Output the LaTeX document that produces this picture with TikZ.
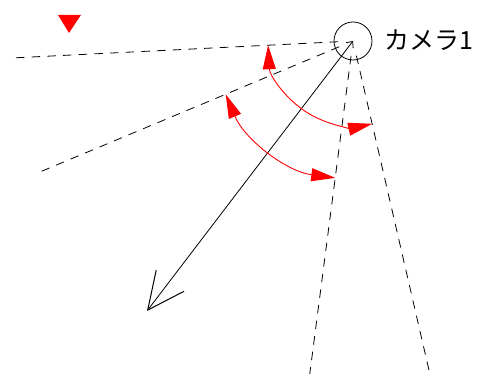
\documentclass[tikz,border=0pt]{standalone}
\usepackage{fontspec}
\newfontfamily\cjk{Noto Sans CJK JP}
\usetikzlibrary{arrows.meta,calc}
\begin{document}
\begin{tikzpicture}[x=1pt,y=1pt,
  ray/.style={draw=black,line width=0.8pt,dash pattern=on 8.5pt off 7.2pt},
  redarc/.style={draw=red,line width=0.9pt,{Triangle[length=24pt,width=13pt]}-{Triangle[length=24pt,width=13pt]}},
  axisarrow/.style={draw=black,line width=0.8pt,{Straight Barb[length=37pt,width=35pt,line width=1pt]}-{Straight Barb[length=5pt,width=9pt]}}]
\useasboundingbox (0,0) rectangle (480,374);
\coordinate (apex) at (353,333);
\node[circle,draw,line width=0.8pt,minimum size=38pt,inner sep=0pt] (cam) at (apex) {};
\node[anchor=west,inner sep=0pt,font=\cjk\fontsize{25}{25}\selectfont] (label) at (384,334) {カメラ1};
% rays
\coordinate (r1s) at ($(apex)+(182.85:15)$);
\coordinate (r1e) at ($(apex)+(182.85:341)$);
\coordinate (r2s) at ($(apex)+(202.7:15)$);
\coordinate (r2e) at ($(apex)+(202.7:340)$);
\coordinate (r3s) at ($(apex)+(262.6:15)$);
\coordinate (r3e) at ($(apex)+(262.6:337)$);
\coordinate (r4s) at ($(apex)+(283.0:15)$);
\coordinate (r4e) at ($(apex)+(283.0:342)$);
\draw[ray] (r1s) -- (r1e);
\draw[ray] (r2s) -- (r2e);
\draw[ray] (r3s) -- (r3e);
\draw[ray] (r4s) -- (r4e);
% optical axis arrow
\coordinate (axend) at (147,63);
\draw[axisarrow] (axend) -- (apex);
% angle arcs
\draw[redarc] ($(apex)+(182.85:85)$) arc[start angle=182.85,end angle=283,radius=85pt];
\draw[redarc] ($(apex)+(202.7:138)$) arc[start angle=202.7,end angle=262.6,radius=138pt];
% marker
\fill[red] (58,359) -- (81,359) -- (69,341) -- cycle;
\end{tikzpicture}
\end{document}
